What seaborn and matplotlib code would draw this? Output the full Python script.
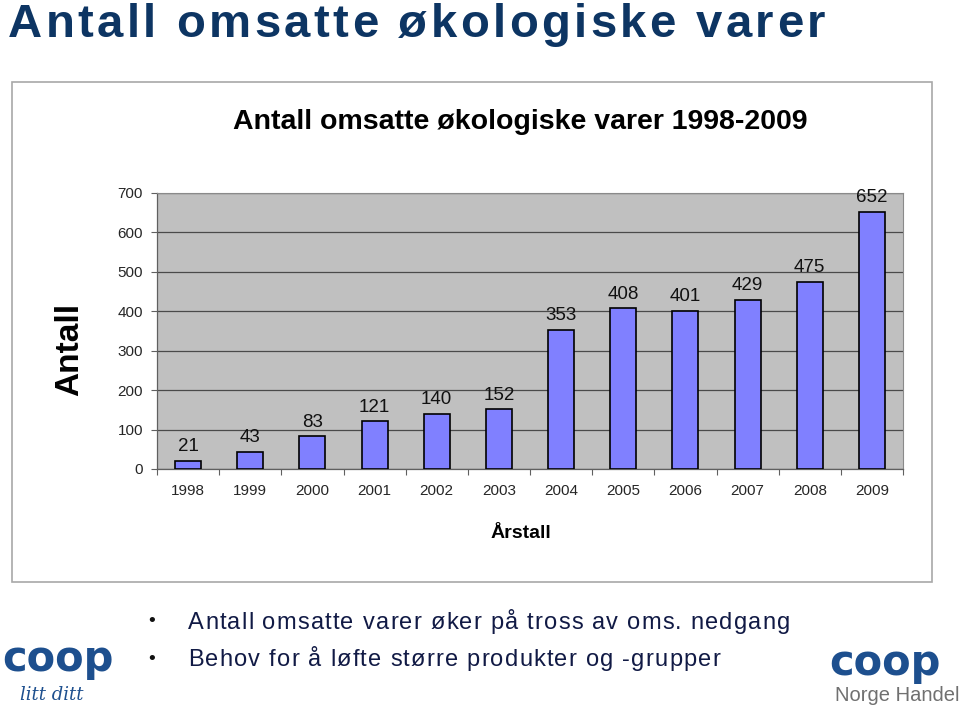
import matplotlib
matplotlib.use("Agg")
import matplotlib.pyplot as plt
import seaborn as sns
import pandas as pd
import numpy as np
from matplotlib.patches import Rectangle

# ---- data ----
years = ["1998", "1999", "2000", "2001", "2002", "2003",
         "2004", "2005", "2006", "2007", "2008", "2009"]
counts = [21, 43, 83, 121, 140, 152, 353, 408, 401, 429, 475, 652]
yticks = [0, 100, 200, 300, 400, 500, 600, 700]

main_title = "Antall omsatte økologiske varer"
chart_title = "Antall omsatte økologiske varer 1998-2009"
y_label = "Antall"
x_label = "Årstall"
bullets = ["Antall omsatte varer øker på tross av oms. nedgang",
           "Behov for å løfte større produkter og -grupper"]

df = pd.DataFrame({"year": years, "count": counts})

sns.set_theme(style="white")
plt.rcParams["font.family"] = ["Liberation Sans", "DejaVu Sans"]

W, H = 960, 707
fig = plt.figure(figsize=(W / 100, H / 100), dpi=100)
fig.patch.set_facecolor("white")

def fx(px):
    return px / W

def fy(py):
    return 1 - py / H

# chart frame
fig.patches.append(Rectangle((fx(12), fy(582)), fx(932) - fx(12), fy(82) - fy(582),
                             transform=fig.transFigure, fill=False,
                             edgecolor="#a8a8a8", linewidth=1.2, zorder=0))

ax = fig.add_axes([fx(157), fy(469), fx(903) - fx(157), fy(193) - fy(469)])
ax.set_facecolor("#c0c0c0")
sns.barplot(data=df, x="year", y="count", color="#8080ff", edgecolor="black",
            linewidth=1.2, width=0.42, saturation=1, ax=ax, zorder=3)
ax.set_ylim(0, 700)
ax.set_xlim(-0.5, len(years) - 0.5)
ax.set_yticks(yticks)
ax.set_yticklabels([str(v) for v in yticks], fontsize=11)
ax.yaxis.grid(True, color="#4a4a4a", linewidth=0.9, zorder=1)
ax.set_axisbelow(True)
ax.tick_params(axis="y", which="major", length=4, width=0.8, color="#606060",
               direction="out", left=True, pad=6, labelsize=11)
ax.tick_params(axis="x", which="major", length=0, pad=11, labelsize=11)
ax.set_xticks(np.arange(-0.5, len(years), 1), minor=True)
ax.tick_params(axis="x", which="minor", length=4, width=0.8, color="#606060",
               direction="out", bottom=True)
for s in ["top", "right"]:
    ax.spines[s].set_color("#8a8a8a")
    ax.spines[s].set_linewidth(0.8)
for s in ["left", "bottom"]:
    ax.spines[s].set_color("#606060")
    ax.spines[s].set_linewidth(0.9)
ax.set_xlabel("")
ax.set_ylabel("")

for i, v in enumerate(counts):
    ax.annotate(str(v), (i, v), xytext=(0, 4), textcoords="offset points",
                ha="center", va="bottom", fontsize=13.5, color="#111111")

fig.text(fx(520), fy(122), chart_title, ha="center", va="center",
         fontsize=20.5, fontweight="bold", color="black")
fig.text(fx(70), fy(349), y_label, ha="center", va="center", rotation=90,
         fontsize=24, fontweight="bold", color="black")
fig.text(fx(521), fy(534), x_label, ha="center", va="center",
         fontsize=14, fontweight="bold", color="black")

renderer = fig.canvas.get_renderer()

def spaced_text(x0, x1, ybase, s, **kw):
    # draw text character by character, spreading it from x0 to x1 (pixels)
    widths = []
    for ch in s:
        if ch == " ":
            t = fig.text(0, 0, "n n", **kw)
            w1 = t.get_window_extent(renderer).width
            t.remove()
            t = fig.text(0, 0, "nn", **kw)
            w2 = t.get_window_extent(renderer).width
            t.remove()
            widths.append(w1 - w2)
        else:
            t = fig.text(0, 0, ch, **kw)
            widths.append(t.get_window_extent(renderer).width)
            t.remove()
    total = sum(widths)
    gap = (x1 - x0 - total) / max(len(s) - 1, 1)
    cur = x0
    for ch, w in zip(s, widths):
        if ch != " ":
            fig.text(fx(cur), fy(ybase), ch, ha="left", va="baseline", **kw)
        cur += w + gap

spaced_text(8, 825, 37, main_title, fontsize=34, fontweight="bold", color="#0d3563")
spaced_text(188, 790, 629, bullets[0], fontsize=17, color="#111a45")
spaced_text(188, 720, 666, bullets[1], fontsize=17, color="#111a45")
for yb in (622, 659):
    fig.text(fx(152), fy(yb), "•", ha="center", va="center", fontsize=14, color="#111111")

# logos (as text)
fig.text(fx(58), fy(671), "coop", ha="center", va="baseline", fontsize=30,
         fontweight="heavy", color="#1d4f8e", family=["DejaVu Sans"])
fig.text(fx(52), fy(700), "litt ditt", ha="center", va="baseline", fontsize=13,
         style="italic", color="#1d4f8e", family=["DejaVu Serif"])
fig.text(fx(885), fy(675), "coop", ha="center", va="baseline", fontsize=30,
         fontweight="heavy", color="#1d4f8e", family=["DejaVu Sans"])
fig.text(fx(897), fy(701), "Norge Handel", ha="center", va="baseline", fontsize=14.5,
         color="#707070")

fig.savefig("out.png", dpi=100, facecolor="white")
